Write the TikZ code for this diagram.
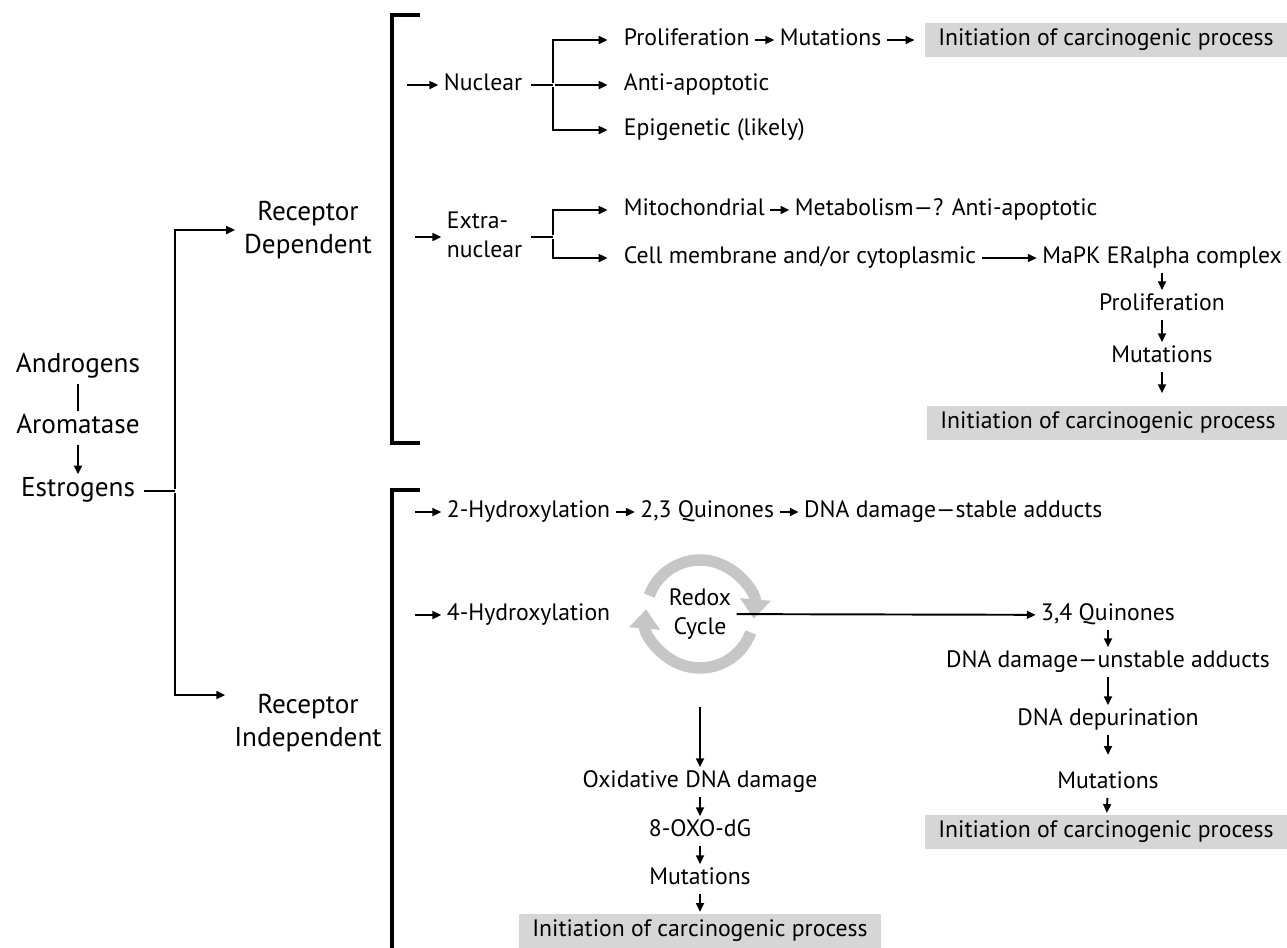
\documentclass[tikz,border=0pt]{standalone}
\usepackage{fontspec}
\setmainfont{PT Sans}
\usetikzlibrary{arrows.meta,positioning}
\begin{document}
\begin{tikzpicture}[x=0.02cm, y=-0.02cm,
    font=\fontsize{13.5}{16.5}\selectfont,
    node distance=0.45cm,
    txt/.style={inner xsep=2pt, inner ysep=1pt, text height=9.5pt, text depth=3pt, anchor=west},
    lbl/.style={inner xsep=2pt, inner ysep=1pt, text height=9.5pt, text depth=3pt, align=center},
    big/.style={lbl, font=\fontsize{15.5}{19}\selectfont},
    initbox/.style={fill=gray!32, inner sep=2pt, minimum width=7.25cm, minimum height=0.68cm},
    arrow/.style={-{Triangle[length=5pt,width=4.5pt]}, line width=1.1pt, shorten >=1pt, shorten <=1pt},
    plain/.style={line width=1.1pt},
    bracket/.style={line width=2.3pt},
    redoxarc/.style={line width=6.5pt, draw=gray!45, -{Triangle[length=11pt,width=17pt]}}
]
    \useasboundingbox (0,0) rectangle (1287,947);

    % Source of estrogens
    \node[big] (andro) at (78,367) {Androgens};
    \node[big] (aroma) at (78,428) {Aromatase};
    \node[big] (estro) at (78,491) {Estrogens};
    \draw[plain, shorten >=2pt, shorten <=2pt] (andro) -- (aroma);
    \draw[arrow, shorten >=2pt, shorten <=2pt] (aroma) -- (estro);

    % Two branches
    \node[big, text height=] (dep) at (308,230) {Receptor\\Dependent};
    \node[big, text height=] (indep) at (308,723) {Receptor\\Independent};
    \coordinate (split) at (175,491);
    \draw[plain, shorten <=3pt] (estro) -- (split);
    \draw[arrow, shorten >=3pt] (split) |- (dep);
    \draw[arrow, shorten >=3pt] (split) |- ([yshift=0.56cm]indep.west);

    % Brackets
    \draw[bracket] (420,15) -| (392,443) -- (420,443);
    \draw[bracket] (420,490) -| (392,950);

    % Nuclear
    \node[lbl] (nuc) at (483,85) {Nuclear};
    \draw[arrow] ([xshift=-0.7cm]nuc.west) -- (nuc);
    \coordinate (nucfork) at (553,85);
    \draw[plain, shorten <=3pt] (nuc) -- (nucfork);
    \node[txt] (prolifA) at (620,40) {Proliferation};
    \node[txt, right=of prolifA] (mutA) {Mutations};
    \node[initbox] (initA) at (1106,40) {Initiation of carcinogenic process};
    \node[txt] (antiA) at (620,85) {Anti-apoptotic};
    \node[txt] (epi) at (620,130) {Epigenetic (likely)};
    \draw[arrow, shorten >=0.25cm] (nucfork) |- (prolifA);
    \draw[arrow, shorten >=0.25cm] (nucfork) -- (antiA);
    \draw[arrow, shorten >=0.25cm] (nucfork) |- (epi);
    \draw[arrow] (prolifA) -- (mutA);
    \draw[arrow, shorten >=0.2cm] (mutA) -- (initA);

    % Extra-nuclear
    \node[txt, align=left, text height=] (extra) at (443,237) {Extra-\\nuclear};
    \draw[arrow] ([xshift=-0.6cm]extra.west) -- (extra);
    \coordinate (exfork) at (553,237);
    \draw[plain, shorten <=3pt] (extra) -- (exfork);
    \node[txt] (mito) at (620,210) {Mitochondrial};
    \node[txt, right=of mito] (metab) {Metabolism—? Anti-apoptotic};
    \node[txt] (cellm) at (620,258) {Cell membrane and/or cytoplasmic};
    \node[lbl] (mapk) at (1162,258) {MaPK ERalpha complex};
    \draw[arrow, shorten >=0.25cm] (exfork) |- (mito);
    \draw[arrow, shorten >=0.25cm] (exfork) |- (cellm);
    \draw[arrow] (mito) -- (metab);
    \draw[arrow] (cellm) -- (mapk);
    \node[lbl] (prolifB) at (1162,305) {Proliferation};
    \node[lbl] (mutB) at (1162,357) {Mutations};
    \node[initbox] (initB) at (1108,423) {Initiation of carcinogenic process};
    \draw[arrow] (mapk) -- (prolifB);
    \draw[arrow] (prolifB) -- (mutB);
    \draw[arrow, shorten >=0.25cm] (mutB) -- (mutB |- initB.north);

    % 2-Hydroxylation
    \node[txt] (hydA) at (443,512) {2-Hydroxylation};
    \node[txt, right=of hydA] (quinA) {2,3 Quinones};
    \node[txt, right=of quinA] (stable) {DNA damage—stable adducts};
    \draw[arrow] ([xshift=-0.6cm]hydA.west) -- (hydA);
    \draw[arrow] (hydA) -- (quinA);
    \draw[arrow] (quinA) -- (stable);

    % 4-Hydroxylation and redox cycle
    \node[txt] (hydB) at (443,615) {4-Hydroxylation};
    \draw[arrow] ([xshift=-0.6cm]hydB.west) -- (hydB);
    \node[lbl, text height=] (redox) at (700,614) {Redox\\Cycle};
    \draw[redoxarc] ([shift={(160:1.08cm)}]redox.center) arc[start angle=160, end angle=-5, radius=1.08cm];
    \draw[redoxarc] ([shift={(-20:1.08cm)}]redox.center) arc[start angle=-20, end angle=-185, radius=1.08cm];

    % Quinone route
    \node[lbl] (quinB) at (1108,615) {3,4 Quinones};
    \node[lbl] (unstable) at (1108,662) {DNA damage—unstable adducts};
    \node[lbl] (depur) at (1108,720) {DNA depurination};
    \node[lbl] (mutC) at (1108,783) {Mutations};
    \node[initbox] (initC) at (1106,832) {Initiation of carcinogenic process};
    \draw[arrow] (redox) -- (quinB);
    \draw[arrow] (quinB) -- (unstable);
    \draw[arrow] (unstable) -- (depur);
    \draw[arrow, shorten >=0.3cm] (depur) -- (mutC);
    \draw[arrow] (mutC) -- (initC);

    % Oxidative route
    \node[lbl] (oxid) at (700,782) {Oxidative DNA damage};
    \node[lbl] (oxo) at (700,831) {8-OXO-dG};
    \node[lbl] (mutD) at (700,879) {Mutations};
    \node[initbox] (initD) at (700,931) {Initiation of carcinogenic process};
    \draw[arrow, shorten <=1.3cm] (redox) -- (oxid);
    \draw[arrow] (oxid) -- (oxo);
    \draw[arrow] (oxo) -- (mutD);
    \draw[arrow] (mutD) -- (initD);
\end{tikzpicture}
\end{document}
